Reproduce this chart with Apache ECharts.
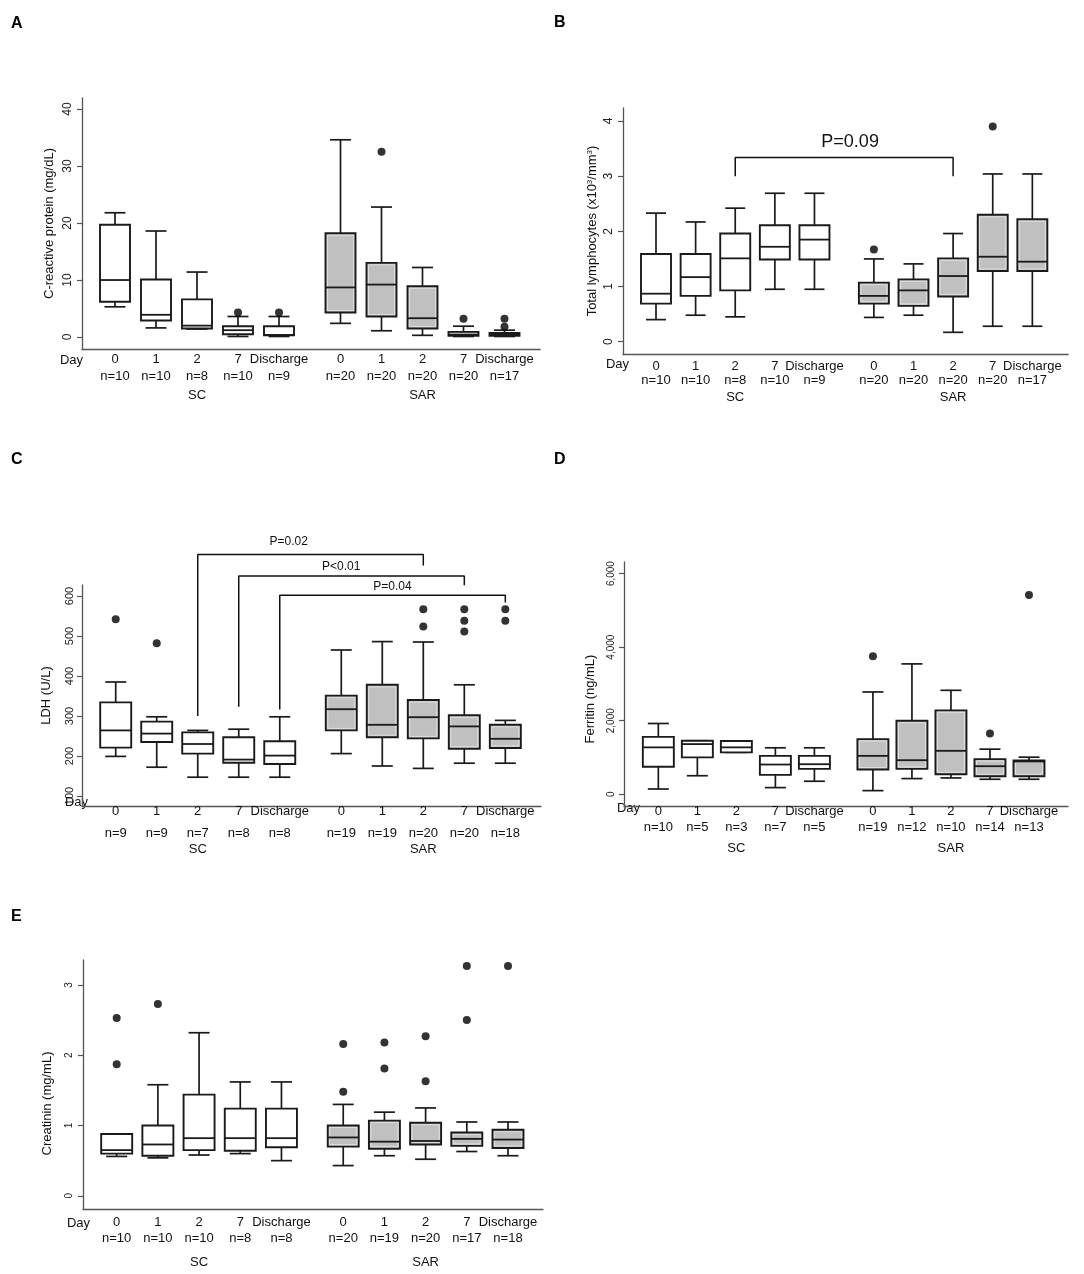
<!DOCTYPE html>
<html>
<head>
<meta charset="utf-8">
<script src="https://cdn.jsdelivr.net/npm/echarts@6/dist/echarts.min.js"></script>
<style>
html,body{margin:0;padding:0;background:#fff;}
#chart{width:1084px;height:1274px;}
</style>
</head>
<body>
<div id="chart"></div>
<script>
// ---------------- DATA ----------------
const days = ['0', '1', '2', '7', 'Discharge'];
const groups = ['SC', 'SAR'];
// each box: [min, Q1, median, Q3, max]; outliers: [dayIndex, value]

// A: C-reactive protein (mg/dL)
const crpSC  = [[5.3,6.2,10.0,19.7,21.8],[1.6,2.9,3.9,10.1,18.6],[1.4,1.5,2.0,6.6,11.4],[0.1,0.5,1.2,1.9,3.6],[0.1,0.3,0.35,1.9,3.6]];
const crpSAR = [[2.4,4.3,8.7,18.2,34.6],[1.1,3.6,9.2,13.0,22.8],[0.3,1.5,3.3,8.9,12.2],[0.1,0.2,0.4,0.9,1.9],[0.1,0.2,0.4,0.7,1.2]];
const crpSCOut  = [[3,4.3],[4,4.3]];
const crpSAROut = [[1,32.5],[3,3.2],[4,3.2],[4,1.8]];
const crpN_SC = [10,10,8,10,9];
const crpN_SAR = [20,20,20,20,17];
const crpTicks = [0,10,20,30,40];

// B: Total lymphocytes (x10^3/mm^3)
const lymSC  = [[0.40,0.69,0.87,1.59,2.33],[0.48,0.83,1.17,1.59,2.17],[0.45,0.93,1.51,1.96,2.42],[0.95,1.49,1.72,2.11,2.69],[0.95,1.49,1.85,2.11,2.69]];
const lymSAR = [[0.44,0.69,0.83,1.07,1.50],[0.48,0.65,0.93,1.13,1.41],[0.17,0.82,1.19,1.51,1.96],[0.28,1.28,1.54,2.30,3.04],[0.28,1.28,1.45,2.22,3.04]];
const lymSCOut  = [];
const lymSAROut = [[0,1.67],[3,3.90]];
const lymN_SC = [10,10,8,10,9];
const lymN_SAR = [20,20,20,20,17];
const lymTicks = [0,1,2,3,4];

// C: LDH (U/L)
const ldhSC  = [[199,221,264,334,385],[172,235,256,286,298],[147,206,230,259,264],[147,183,191,247,267],[147,180,201,237,298]];
const ldhSAR = [[206,264,317,351,465],[175,247,278,378,486],[169,244,297,340,485],[182,218,274,302,378],[182,220,243,278,289]];
const ldhSCOut  = [[0,542],[1,482]];
const ldhSAROut = [[2,567],[2,524],[3,567],[3,538],[3,511],[4,567],[4,538]];
const ldhN_SC = [9,9,7,8,8];
const ldhN_SAR = [19,19,20,20,18];
const ldhTicks = [100,200,300,400,500,600];

// D: Ferritin (ng/mL)
const ferSC  = [[144,749,1276,1560,1925],[505,1004,1365,1455,1455],[1140,1140,1276,1450,1450],[182,527,809,1045,1264],[355,691,818,1045,1264]];
const ferSAR = [[100,673,1045,1500,2782],[427,691,927,2000,3545],[445,545,1182,2282,2827],[409,491,764,955,1227],[409,491,891,918,1009]];
const ferSCOut  = [];
const ferSAROut = [[0,3755],[3,1655],[4,5418]];
const ferN_SC = [10,5,3,7,5];
const ferN_SAR = [19,12,10,14,13];
const ferTicks = [0,2000,4000,6000];

// E: Creatinin (mg/mL)
const creSC  = [[0.56,0.60,0.65,0.88,0.88],[0.54,0.57,0.73,1.00,1.58],[0.58,0.65,0.82,1.44,2.32],[0.60,0.64,0.82,1.24,1.62],[0.50,0.69,0.82,1.24,1.62]];
const creSAR = [[0.43,0.70,0.83,1.00,1.30],[0.57,0.67,0.77,1.07,1.19],[0.52,0.73,0.78,1.04,1.25],[0.63,0.71,0.81,0.90,1.05],[0.57,0.68,0.80,0.94,1.05]];
const creSCOut  = [[0,2.53],[0,1.87],[1,2.73]];
const creSAROut = [[0,2.16],[0,1.48],[1,2.18],[1,1.81],[2,2.27],[2,1.63],[3,3.27],[3,2.50],[4,3.27]];
const creN_SC = [10,10,10,8,8];
const creN_SAR = [20,19,20,17,18];
const creTicks = [0,1,2,3];

// significance brackets: [fromDay (SC), toDay (SAR), bracket level, left end, right end, text, text value]
const lymBrackets = [[2,2,3.34,3.0,3.0,'P=0.09',3.61]];
const ldhBrackets = [[2,2,704,300,676,'P=0.02',736],[3,3,650,323,627,'P<0.01',673],[4,4,602,316,584,'P=0.04',623]];

// ---------------- LAYOUT ----------------
const SAR_SHIFT = 5.5;          // x position of SAR day 0 (SC days at 0..4)
const FONT = 'Liberation Sans, Arial, Helvetica, sans-serif';

const panels = [
  {letter:'A', lx:17, ly:25, dayX:83, dayY:360,
   grid:{left:82, top:98, width:458, height:251}, x:[-0.805,10.366], y:[-2.1,41.93],
   sc:crpSC, sar:crpSAR, scOut:crpSCOut, sarOut:crpSAROut, nSC:crpN_SC, nSAR:crpN_SAR, ticks:crpTicks,
   name:'C-reactive protein (mg/dL)', nameGap:26, namePad:[0,0,0,0], tickFont:12, labMargin:8,
   lab:{m:2, L1:16, L2:18, L3:20}, boxW:30, capW:21, brackets:[], pFont:12, textX:[]},
  {letter:'B', lx:560, ly:24, dayX:629, dayY:364,
   grid:{left:623, top:108, width:445, height:246}, x:[-0.833,10.40], y:[-0.223,4.235],
   sc:lymSC, sar:lymSAR, scOut:lymSCOut, sarOut:lymSAROut, nSC:lymN_SC, nSAR:lymN_SAR, ticks:lymTicks,
   name:'Total lymphocytes (x10{sup|3}/mm{sup|3})', nameGap:24, namePad:[0,0,0,0], tickFont:12, labMargin:8,
   lab:{m:5, L1:14, L2:14, L3:20}, boxW:30, capW:20, brackets:lymBrackets, pFont:18, textX:[4.9]},
  {letter:'C', lx:17, ly:461, dayX:88, dayY:802,
   grid:{left:82, top:585, width:459, height:221}, x:[-0.822,10.37], y:[75,627.5],
   sc:ldhSC, sar:ldhSAR, scOut:ldhSCOut, sarOut:ldhSAROut, nSC:ldhN_SC, nSAR:ldhN_SAR, ticks:ldhTicks,
   name:'LDH (U/L)', nameGap:29, namePad:[0,0,0,0], tickFont:11, labMargin:7,
   lab:{m:-8, L1:26, L2:18, L3:14}, boxW:31, capW:21, brackets:ldhBrackets, pFont:12, textX:[4.22,5.5,6.75]},
  {letter:'D', lx:560, ly:461, dayX:640, dayY:808,
   grid:{left:624, top:562, width:444, height:244}, x:[-0.88,10.50], y:[-318,6315],
   sc:ferSC, sar:ferSAR, scOut:ferSCOut, sarOut:ferSAROut, nSC:ferN_SC, nSAR:ferN_SAR, ticks:ferTicks,
   name:'Ferritin (ng/mL)', nameGap:27, namePad:[0,30,0,0], tickFont:10, labMargin:8,
   lab:{m:-3, L1:16, L2:16, L3:27}, boxW:31, capW:21, brackets:[], pFont:12, textX:[]},
  {letter:'E', lx:17, ly:918, dayX:90, dayY:1223,
   grid:{left:83, top:960, width:460, height:249}, x:[-0.818,10.35], y:[-0.188,3.355],
   sc:creSC, sar:creSAR, scOut:creSCOut, sarOut:creSAROut, nSC:creN_SC, nSAR:creN_SAR, ticks:creTicks,
   name:'Creatinin (mg/mL)', nameGap:29, namePad:[0,38,0,0], tickFont:10, labMargin:9,
   lab:{m:5, L1:16, L2:17, L3:31}, boxW:31, capW:21, brackets:[], pFont:12, textX:[]}
];

// ---------------- BUILD ----------------
function fmtThousands(v){ return String(Math.round(v)).replace(/\B(?=(\d{3})+(?!\d))/g, ','); }

function boxRenderer(fill, boxW, capW, inner){
  return function(params, api){
    const x = api.value(0);
    const pMin = api.coord([x, api.value(1)]);
    const pQ1  = api.coord([x, api.value(2)]);
    const pMed = api.coord([x, api.value(3)]);
    const pQ3  = api.coord([x, api.value(4)]);
    const pMax = api.coord([x, api.value(5)]);
    const cx = pMed[0], hw = boxW/2, hc = capW/2;
    const st = {stroke:'#1a1a1a', lineWidth:1.7};
    const ch = [
      {type:'line', shape:{x1:cx,y1:pQ3[1],x2:cx,y2:pMax[1]}, style:st},
      {type:'line', shape:{x1:cx-hc,y1:pMax[1],x2:cx+hc,y2:pMax[1]}, style:st},
      {type:'line', shape:{x1:cx,y1:pQ1[1],x2:cx,y2:pMin[1]}, style:st},
      {type:'line', shape:{x1:cx-hc,y1:pMin[1],x2:cx+hc,y2:pMin[1]}, style:st},
      {type:'rect', shape:{x:cx-hw,y:pQ3[1],width:boxW,height:Math.max(pQ1[1]-pQ3[1],0.5)}, style:{fill:fill, stroke:'#1a1a1a', lineWidth:1.9}}
    ];
    if (inner && pQ1[1]-pQ3[1] > 5) {
      ch.push({type:'rect', shape:{x:cx-hw+2,y:pQ3[1]+2,width:boxW-4,height:pQ1[1]-pQ3[1]-4}, style:{fill:'none', stroke:'#e6e6e6', lineWidth:0.8}});
    }
    ch.push({type:'line', shape:{x1:cx-hw,y1:pMed[1],x2:cx+hw,y2:pMed[1]}, style:{stroke:'#1a1a1a', lineWidth:1.8}});
    return {type:'group', children:ch};
  };
}

const option = {animation:false, backgroundColor:'#fff', grid:[], xAxis:[], yAxis:[], series:[], graphic:[]};

panels.forEach(function(p, gi){
  option.grid.push(Object.assign({containLabel:false}, p.grid));
  const scPos = days.map(function(d,i){ return i; });
  const sarPos = days.map(function(d,i){ return SAR_SHIFT + i; });
  // empty sentinel labels at both ends so no real label is treated as min/max label
  const positions = [p.x[0] + 0.01].concat(scPos, sarPos, [p.x[1] - 0.01]);
  const labelMap = {};
  days.forEach(function(d,i){
    labelMap[scPos[i].toFixed(2)] = '{d|' + d + '}\n{n|n=' + p.nSC[i] + '}' + (i === 2 ? '\n{g|' + groups[0] + '}' : '');
    labelMap[sarPos[i].toFixed(2)] = '{d|' + d + '}\n{n|n=' + p.nSAR[i] + '}' + (i === 2 ? '\n{g|' + groups[1] + '}' : '');
  });
  option.xAxis.push({
    type:'value', gridIndex:gi, min:p.x[0], max:p.x[1],
    axisLine:{show:true, onZero:false, lineStyle:{color:'#555', width:1.3}},
    axisTick:{show:false}, splitLine:{show:false},
    axisLabel:{
      customValues:positions, hideOverlap:false,
      margin:p.lab.m, color:'#111', fontFamily:FONT, fontSize:13,
      formatter:function(v){ return labelMap[Number(v).toFixed(2)] || ''; },
      rich:{
        d:{fontSize:13, fontFamily:FONT, color:'#111', lineHeight:p.lab.L1},
        n:{fontSize:13, fontFamily:FONT, color:'#111', lineHeight:p.lab.L2},
        g:{fontSize:13, fontFamily:FONT, color:'#111', lineHeight:p.lab.L3}
      }
    }
  });
  option.yAxis.push({
    type:'value', gridIndex:gi, min:p.y[0], max:p.y[1],
    axisLine:{show:true, onZero:false, lineStyle:{color:'#555', width:1.3}},
    axisTick:{show:true, length:5, customValues:p.ticks, lineStyle:{color:'#555', width:1.2}},
    splitLine:{show:false},
    axisLabel:{customValues:p.ticks, showMinLabel:true, showMaxLabel:true, rotate:90, margin:p.labMargin, fontSize:p.tickFont, fontFamily:FONT, color:'#222',
      formatter:function(v){ return p.letter === 'D' ? fmtThousands(v) : String(v); }},
    name:p.name, nameLocation:'middle', nameGap:p.nameGap,
    nameTextStyle:{fontSize:13, fontFamily:FONT, color:'#111', padding:p.namePad,
      rich:{sup:{fontSize:8, fontFamily:FONT, color:'#111', verticalAlign:'top', padding:[0,0,5,0]}}}
  });
  // boxes
  option.series.push({
    type:'custom', xAxisIndex:gi, yAxisIndex:gi, silent:true, clip:false,
    renderItem:boxRenderer('#ffffff', p.boxW, p.capW, false),
    encode:{x:0, y:[1,2,3,4,5]},
    data:p.sc.map(function(b,i){ return [scPos[i]].concat(b); })
  });
  option.series.push({
    type:'custom', xAxisIndex:gi, yAxisIndex:gi, silent:true, clip:false,
    renderItem:boxRenderer('#c0c0c0', p.boxW, p.capW, true),
    encode:{x:0, y:[1,2,3,4,5]},
    data:p.sar.map(function(b,i){ return [sarPos[i]].concat(b); })
  });
  // outliers
  const outs = p.scOut.map(function(o){ return [scPos[o[0]], o[1]]; })
    .concat(p.sarOut.map(function(o){ return [sarPos[o[0]], o[1]]; }));
  option.series.push({
    type:'scatter', xAxisIndex:gi, yAxisIndex:gi, silent:true, symbol:'circle', symbolSize:8,
    itemStyle:{color:'#000'}, data:outs
  });
  // brackets
  p.brackets.forEach(function(b, bi){
    const x1 = scPos[b[0]], x2 = sarPos[b[1]];
    option.series.push({
      type:'line', xAxisIndex:gi, yAxisIndex:gi, silent:true, clip:false, symbol:'none',
      lineStyle:{color:'#111', width:1.5},
      data:[[x1,b[3]],[x1,b[2]],[x2,b[2]],[x2,b[4]]]
    });
    const tx = p.textX[bi];
    option.series.push({
      type:'custom', xAxisIndex:gi, yAxisIndex:gi, silent:true, clip:false,
      data:[[tx, b[6]]],
      renderItem:function(params, api){
        const pt = api.coord([api.value(0), api.value(1)]);
        return {type:'text', x:pt[0], y:pt[1], style:{text:b[5], fill:'#111', fontSize:p.pFont, fontFamily:FONT, align:'center', verticalAlign:'middle'}};
      }
    });
  });
  // panel letter and "Day"
  option.graphic.push({type:'text', left:p.lx - 6, top:p.ly - 9, style:{text:p.letter, fill:'#000', font:'bold 16px ' + FONT}});
  option.graphic.push({type:'text', x:p.dayX, y:p.dayY, style:{text:'Day', fill:'#111', fontSize:13, fontFamily:FONT, align:'right', verticalAlign:'middle'}});
});

const chart = echarts.init(document.getElementById('chart'), null, {renderer:'canvas'});
chart.setOption(option);
</script>
</body>
</html>
